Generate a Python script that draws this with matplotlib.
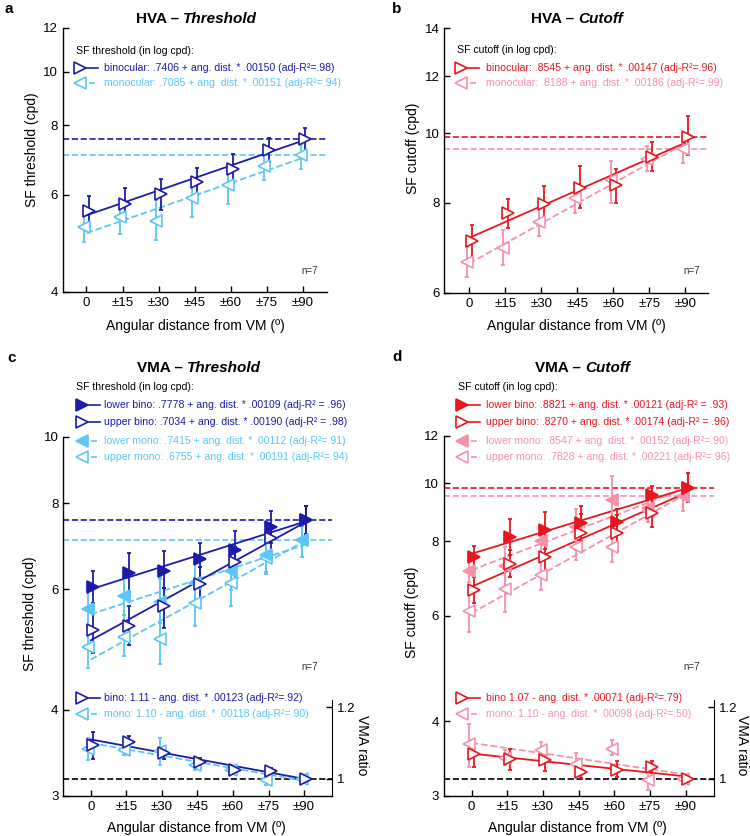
import numpy as np
import matplotlib
matplotlib.use('Agg')
import matplotlib.pyplot as plt
from matplotlib.ticker import FixedLocator, FixedFormatter, NullLocator

plt.rcParams['font.family'] = ['Liberation Sans', 'DejaVu Sans']

W, H = 750, 836

DARK = '#1c1ca8'
LIGHT = '#5cc6f7'
RED = '#e8161e'
PINK = '#f592aa'

angles = np.array([0, 15, 30, 45, 60, 75, 90])
xticklabels = ['0', '±15', '±30', '±45', '±60', '±75', '±90']

# ---- panel a : HVA threshold (cpd), mean / lower / upper error
a_bino = [5.61, 5.78, 6.02, 6.33, 6.67, 7.22, 7.55]
a_bino_lo = [5.26, 5.45, 5.62, 6.00, 6.29, 6.88, 7.19]
a_bino_hi = [5.96, 6.16, 6.39, 6.69, 7.10, 7.60, 7.93]
a_mono = [5.25, 5.46, 5.38, 5.91, 6.24, 6.76, 7.06]
a_mono_lo = [4.93, 5.09, 4.96, 5.47, 5.78, 6.38, 6.67]
a_mono_hi = [5.57, 5.87, 5.86, 6.30, 6.62, 7.17, 7.40]
a_fit_bino = (0.7406, 0.00150)
a_fit_mono = (0.7085, 0.00151)

# ---- panel b : HVA cutoff (cpd)
b_bino = [7.08, 7.74, 7.96, 8.40, 8.47, 9.28, 9.89]
b_bino_lo = [6.71, 7.38, 7.49, 7.88, 8.00, 8.87, 9.33]
b_bino_hi = [7.45, 8.10, 8.44, 9.00, 8.91, 9.72, 10.56]
b_mono = [6.63, 6.93, 7.52, 8.13, 8.61, 9.20, 9.50]
b_mono_lo = [6.30, 6.56, 7.20, 7.74, 8.00, 8.87, 9.09]
b_mono_hi = [6.94, 7.33, 7.86, 8.50, 9.14, 9.60, 9.92]
b_fit_bino = (0.8545, 0.00147)
b_fit_mono = (0.8188, 0.00186)

# ---- panel c : VMA threshold (cpd)
c_lb = [6.04, 6.34, 6.38, 6.63, 6.85, 7.39, 7.56]
c_lb_lo = [5.72, 5.95, 6.02, 6.22, 6.43, 6.99, 7.21]
c_lb_hi = [6.38, 6.76, 6.81, 7.01, 7.29, 7.79, 7.93]
c_ub = [5.23, 5.30, 5.66, 6.10, 6.56, 7.11, 7.56]
c_ub_lo = [4.84, 4.97, 5.27, 5.78, 6.13, 6.80, 7.21]
c_ub_hi = [5.66, 5.66, 6.02, 6.45, 6.91, 7.39, 7.93]
c_lm = [5.61, 5.87, 5.75, 6.12, 6.38, 6.72, 7.07]
c_lm_lo = [5.26, 5.50, 5.35, 5.70, 5.98, 6.36, 6.68]
c_lm_hi = [6.02, 6.25, 6.20, 6.58, 6.80, 7.05, 7.40]
c_um = [4.94, 5.11, 5.08, 5.72, 6.12, 6.65, 7.07]
c_um_lo = [4.60, 4.79, 4.66, 5.30, 5.67, 6.30, 6.68]
c_um_hi = [5.30, 5.50, 6.25, 6.15, 6.54, 7.00, 7.40]
c_fit_lb = (0.7778, 0.00109)
c_fit_ub = (0.7034, 0.00190)
c_fit_lm = (0.7415, 0.00112)
c_fit_um = (0.6755, 0.00191)
# VMA ratio
c_rb = [1.095, 1.104, 1.072, 1.046, 1.025, 1.020, 1.0]
c_rb_lo = [1.055, 1.092, 1.056, 1.030, 1.014, 1.010, 1.0]
c_rb_hi = [1.131, 1.121, 1.090, 1.058, 1.034, 1.030, 1.0]
c_rm = [1.083, 1.081, 1.077, 1.039, 1.025, 0.995, 1.0]
c_rm_lo = [1.053, 1.067, 1.039, 1.025, 1.012, 0.983, 1.0]
c_rm_hi = [1.114, 1.095, 1.114, 1.053, 1.036, 1.006, 1.0]
c_fit_rb = (1.11, -0.00123)
c_fit_rm = (1.10, -0.00118)

# ---- panel d : VMA cutoff (cpd)
d_lb = [7.52, 8.14, 8.35, 8.57, 8.62, 9.56, 9.83]
d_lb_lo = [7.19, 7.59, 7.77, 8.02, 8.19, 9.24, 9.29]
d_lb_hi = [7.86, 8.73, 8.97, 9.16, 9.07, 9.89, 10.40]
d_ub = [6.63, 7.33, 7.52, 8.27, 8.25, 8.93, 9.83]
d_ub_lo = [6.31, 6.96, 7.02, 7.69, 7.69, 8.44, 9.29]
d_ub_hi = [6.97, 7.72, 8.05, 8.90, 8.85, 9.45, 10.40]
d_lm = [7.14, 7.27, 8.02, 8.45, 9.37, 9.10, 9.51]
d_lm_lo = [6.83, 6.67, 7.60, 7.72, 8.66, 8.62, 9.00]
d_lm_hi = [7.45, 7.82, 8.45, 9.07, 10.30, 9.70, 9.95]
d_um = [6.11, 6.65, 7.03, 7.83, 7.83, 9.00, 9.51]
d_um_lo = [5.63, 6.10, 6.62, 7.43, 7.39, 8.60, 9.00]
d_um_hi = [6.62, 7.20, 7.45, 8.25, 8.41, 9.40, 9.95]
d_fit_lb = (0.8821, 0.00121)
d_fit_ub = (0.8270, 0.00174)
d_fit_lm = (0.8547, 0.00152)
d_fit_um = (0.7828, 0.00221)
# VMA ratio
d_rb = [1.070, 1.054, 1.051, 1.019, 1.025, 1.033, 1.0]
d_rb_lo = [1.033, 1.025, 1.021, 1.003, 1.005, 1.017, 1.0]
d_rb_hi = [1.084, 1.082, 1.084, 1.037, 1.049, 1.049, 1.0]
d_rm = [1.096, 1.058, 1.079, 1.042, 1.084, 0.995, 1.0]
d_rm_lo = [1.033, 1.037, 1.056, 1.014, 1.067, 0.967, 1.0]
d_rm_hi = [1.154, 1.079, 1.103, 1.072, 1.107, 1.023, 1.0]
d_fit_rb = (1.07, -0.00071)
d_fit_rm = (1.10, -0.00098)

MS = 8          # marker size
LEG_FS = 7.6    # legend font size

fig = plt.figure(figsize=(W / 100, H / 100), dpi=100)


def axes_px(left, top, right, bottom):
    # axes rectangle given in pixel coords (origin top-left)
    return fig.add_axes([left / W, 1 - bottom / H, (right - left) / W, (bottom - top) / H])


def style(ax, xlim, ylim, yticks):
    ax.set_yscale('log')
    ax.set_xlim(xlim)
    ax.set_ylim(ylim)
    ax.yaxis.set_major_locator(FixedLocator(yticks))
    ax.yaxis.set_major_formatter(FixedFormatter([str(t) for t in yticks]))
    ax.yaxis.set_minor_locator(NullLocator())
    ax.set_xticks(angles)
    ax.set_xticklabels(xticklabels)
    ax.spines[['top', 'right']].set_visible(False)
    for s in ['left', 'bottom']:
        ax.spines[s].set_linewidth(1.0)
    ax.tick_params(direction='in', length=4, width=1, labelsize=9.5)
    ax.patch.set_alpha(0)


def series(ax, dx, y, lo, hi, color, marker, filled):
    y = np.array(y)
    x = angles + dx
    ax.errorbar(x, y, yerr=[y - np.array(lo), np.array(hi) - y], fmt='none',
                ecolor=color, elinewidth=1.3, capsize=1.6, capthick=1.3, zorder=3)
    ax.plot(x, y, ls='none', marker=marker, ms=MS, mew=1.2, mec=color,
            mfc=color if filled else 'white', zorder=4)


def fitline(ax, coef, color, ls, log=True):
    xx = np.array([0, 90])
    yy = coef[0] + coef[1] * xx
    if log:
        yy = 10 ** yy
    ax.plot(xx, yy, color=color, ls=ls, lw=1.3, zorder=2)


# ---------------- panel a
axa = axes_px(63, 28, 327, 292)
style(axa, (-9.75, 100), (4, 12), [4, 6, 8, 10, 12])
axa.axhline(a_bino[-1], color=DARK, ls='--', lw=1.2)
axa.axhline(a_mono[-1], color=LIGHT, ls='--', lw=1.2)
fitline(axa, a_fit_mono, LIGHT, '--')
fitline(axa, a_fit_bino, DARK, '-')
series(axa, -1, a_mono, a_mono_lo, a_mono_hi, LIGHT, '<', False)
series(axa, 1, a_bino, a_bino_lo, a_bino_hi, DARK, '>', False)

# ---------------- panel b
axb = axes_px(444.3, 28.3, 708.3, 292.7)
style(axb, (-10.4, 99.6), (6, 14), [6, 8, 10, 12, 14])
axb.axhline(b_bino[-1], color=RED, ls='--', lw=1.2)
axb.axhline(b_mono[-1], color=PINK, ls='--', lw=1.2)
fitline(axb, b_fit_mono, PINK, '--')
fitline(axb, b_fit_bino, RED, '-')
series(axb, -1, b_mono, b_mono_lo, b_mono_hi, PINK, '<', False)
series(axb, 1, b_bino, b_bino_lo, b_bino_hi, RED, '>', False)


def ratio_axis(ax):
    ax2 = ax.twinx()
    ax2.set_xlim(ax.get_xlim())
    ax2.set_ylim(0.952, 1.96)
    ax2.set_yticks([1, 1.2])
    ax2.set_yticklabels(['1', '1.2'])
    ax2.spines[['top', 'left', 'bottom']].set_visible(False)
    ax2.spines['right'].set_bounds(0.952, 1.22)
    ax2.tick_params(direction='in', length=4, width=1, labelsize=9.5)
    ax2.axhline(1.0, color='black', ls='--', lw=1.2)
    return ax2


# ---------------- panel c
axc = axes_px(63.3, 436.7, 332.3, 795.7)
style(axc, (-11.6, 101.9), (3, 10), [3, 4, 6, 8, 10])
axc.axhline(c_lb[-1], color=DARK, ls='--', lw=1.2)
axc.axhline(c_lm[-1], color=LIGHT, ls='--', lw=1.2)
fitline(axc, c_fit_lm, LIGHT, '--')
fitline(axc, c_fit_um, LIGHT, '--')
fitline(axc, c_fit_lb, DARK, '-')
fitline(axc, c_fit_ub, DARK, '-')
series(axc, -1, c_um, c_um_lo, c_um_hi, LIGHT, '<', False)
series(axc, -1, c_lm, c_lm_lo, c_lm_hi, LIGHT, '<', True)
series(axc, 1, c_ub, c_ub_lo, c_ub_hi, DARK, '>', False)
series(axc, 1, c_lb, c_lb_lo, c_lb_hi, DARK, '>', True)
axc2 = ratio_axis(axc)
fitline(axc2, c_fit_rm, LIGHT, '--', log=False)
fitline(axc2, c_fit_rb, DARK, '-', log=False)
series(axc2, -1, c_rm, c_rm_lo, c_rm_hi, LIGHT, '<', False)
series(axc2, 1, c_rb, c_rb_lo, c_rb_hi, DARK, '>', False)

# ---------------- panel d
axd = axes_px(444, 436, 714, 795.7)
style(axd, (-11.6, 101.9), (3, 12), [3, 4, 6, 8, 10, 12])
axd.axhline(d_lb[-1], color=RED, ls='--', lw=1.2)
axd.axhline(d_lm[-1], color=PINK, ls='--', lw=1.2)
fitline(axd, d_fit_lm, PINK, '--')
fitline(axd, d_fit_um, PINK, '--')
fitline(axd, d_fit_lb, RED, '-')
fitline(axd, d_fit_ub, RED, '-')
series(axd, -1, d_um, d_um_lo, d_um_hi, PINK, '<', False)
series(axd, -1, d_lm, d_lm_lo, d_lm_hi, PINK, '<', True)
series(axd, 1, d_ub, d_ub_lo, d_ub_hi, RED, '>', False)
series(axd, 1, d_lb, d_lb_lo, d_lb_hi, RED, '>', True)
axd2 = ratio_axis(axd)
fitline(axd2, d_fit_rm, PINK, '--', log=False)
fitline(axd2, d_fit_rb, RED, '-', log=False)
series(axd2, -1, d_rm, d_rm_lo, d_rm_hi, PINK, '<', False)
series(axd2, 1, d_rb, d_rb_lo, d_rb_hi, RED, '>', False)

# ---------------- text overlay in pixel coords
ov = fig.add_axes([0, 0, 1, 1])
ov.set_xlim(0, W)
ov.set_ylim(H, 0)
ov.axis('off')


def legend_row(mx, y, marker, color, filled, ls, text, tx):
    ov.plot([mx, mx + 18], [y, y], color=color, ls=ls, lw=1.2)
    ov.plot([mx], [y], marker=marker, ms=MS, mew=1.2, mec=color,
            mfc=color if filled else 'white')
    ov.text(tx, y, text, color=color, fontsize=LEG_FS, va='center')


def title(split, y, left, right):
    ov.text(split - 2, y, left, ha='right', va='center', fontsize=11, fontweight='bold')
    ov.text(split + 2, y, right, ha='left', va='center', fontsize=11,
            fontweight='bold', style='italic')


for lab, x, y in [('a', 9, 9), ('b', 397, 9), ('c', 12, 358), ('d', 397, 357)]:
    ov.text(x, y, lab, ha='center', va='center', fontsize=11, fontweight='bold')

title(181, 19, 'HVA –', 'Threshold')
title(576, 19, 'HVA –', 'Cutoff')
title(185, 368, 'VMA –', 'Threshold')
title(583, 368, 'VMA –', 'Cutoff')

# axis labels
for x, y, s in [(31.7, 150, 'SF threshold (cpd)'), (413, 148, 'SF cutoff (cpd)'),
                (30, 614, 'SF threshold (cpd)'), (411.7, 612, 'SF cutoff (cpd)')]:
    ov.text(x, y, s, rotation=90, ha='center', va='center', fontsize=10)
for x, y in [(195.5, 325.7), (576, 325.7), (196, 828.3), (577.5, 828)]:
    ov.text(x, y, 'Angular distance from VM (º)', ha='center', va='center', fontsize=10)
for x in [361.7, 741.7]:
    ov.text(x, 745, 'VMA ratio', rotation=-90, ha='center', va='center', fontsize=10)
for x, y in [(310, 270.7), (691.7, 270.7), (310, 666.7), (691.7, 666.7)]:
    ov.text(x, y, 'n=7', ha='center', va='center', fontsize=7, color='#333333')

# legends
ov.text(76, 50.7, 'SF threshold (in log cpd):', fontsize=LEG_FS, va='center')
legend_row(80, 68.3, '>', DARK, False, '-',
           'binocular: .7406 + ang. dist. * .00150 (adj-R²=.98)', 104)
legend_row(80, 82.7, '<', LIGHT, False, '--',
           'monocular: .7085 + ang. dist. * .00151 (adj-R²=.94)', 104)

ov.text(457.3, 50, 'SF cutoff (in log cpd):', fontsize=LEG_FS, va='center')
legend_row(461, 67.7, '>', RED, False, '-',
           'binocular: .8545 + ang. dist. * .00147 (adj-R²=.96)', 486)
legend_row(461, 83.3, '<', PINK, False, '--',
           'monocular: .8188 + ang. dist. * .00186 (adj-R²=.99)', 486)

ov.text(76, 387, 'SF threshold (in log cpd):', fontsize=LEG_FS, va='center')
legend_row(81.7, 405, '>', DARK, True, '-',
           'lower bino: .7778 + ang. dist. * .00109 (adj-R² = .96)', 104)
legend_row(81.7, 421.7, '>', DARK, False, '-',
           'upper bino: .7034 + ang. dist. * .00190 (adj-R² = .98)', 104)
legend_row(81.7, 440.7, '<', LIGHT, True, '--',
           'lower mono: .7415 + ang. dist. * .00112 (adj-R²=.91)', 104)
legend_row(81.7, 456.7, '<', LIGHT, False, '--',
           'upper mono: .6755 + ang. dist. * .00191 (adj-R²=.94)', 104)
legend_row(81.7, 698.3, '>', DARK, False, '-',
           'bino: 1.11 - ang. dist. * .00123 (adj-R²=.92)', 104)
legend_row(81.7, 714, '<', LIGHT, False, '--',
           'mono: 1.10 - ang. dist. * .00118 (adj-R²=.90)', 104)

ov.text(458, 387, 'SF cutoff (in log cpd):', fontsize=LEG_FS, va='center')
legend_row(462.3, 405, '>', RED, True, '-',
           'lower bino: .8821 + ang. dist. * .00121 (adj-R² = .93)', 486)
legend_row(462.3, 421.7, '>', RED, False, '-',
           'upper bino: .8270 + ang. dist. * .00174 (adj-R² = .96)', 486)
legend_row(462.3, 440.7, '<', PINK, True, '--',
           'lower mono: .8547 + ang. dist. * .00152 (adj-R²=.90)', 486)
legend_row(462.3, 456.7, '<', PINK, False, '--',
           'upper mono: .7828 + ang. dist. * .00221 (adj-R²=.96)', 486)
legend_row(462.3, 698.3, '>', RED, False, '-',
           'bino 1.07 - ang. dist. * .00071 (adj-R²=.79)', 486)
legend_row(462.3, 714, '<', PINK, False, '--',
           'mono: 1.10 - ang. dist. * .00098 (adj-R²=.50)', 486)

fig.savefig('out.png', dpi=100)
